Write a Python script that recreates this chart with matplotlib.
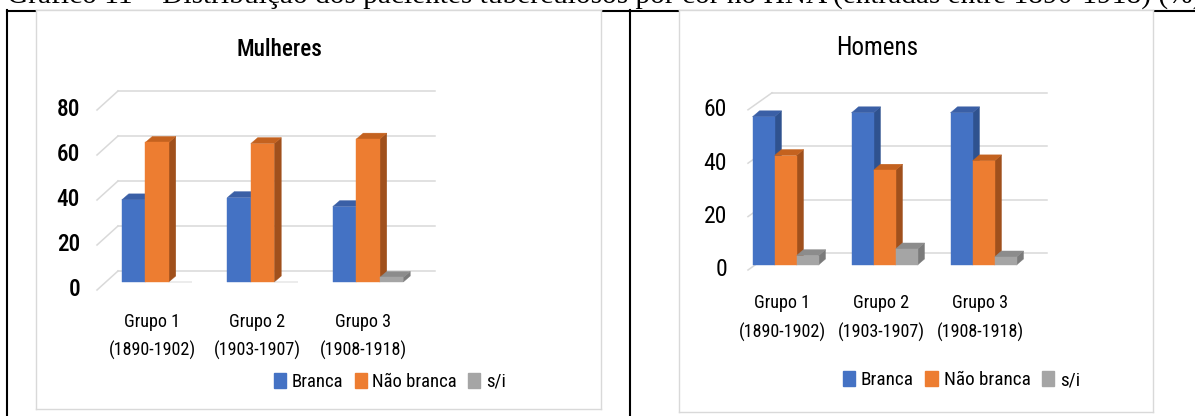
import numpy as np
import matplotlib
matplotlib.use('Agg')
import matplotlib.pyplot as plt
from matplotlib.patches import Polygon, Patch
from matplotlib import font_manager
from matplotlib.font_manager import FontProperties

# data (%)
grupos = ['Grupo 1', 'Grupo 2', 'Grupo 3']
periodos = ['(1890-1902)', '(1903-1907)', '(1908-1918)']
series = ['Branca', 'Não branca', 's/i']
mulheres_branca = [36.5, 37.5, 33.5]
mulheres_nao_branca = [62, 61.5, 63.5]
mulheres_si = [0, 0, 2]
homens_branca = [55.5, 57, 57]
homens_nao_branca = [41, 35.5, 39]
homens_si = [3.5, 6, 3]
mulheres_ticks = [0, 20, 40, 60, 80]
homens_ticks = [0, 20, 40, 60]

caption = 'Gráfico 11 – Distribuição dos pacientes tuberculosos por cor no HNA (entradas entre 1890-1918) (%)'

front_c = ['#4472C4', '#ED7D31', '#A5A5A5']
side_c = ['#2F528F', '#A0501C', '#7B7B7B']
top_c = ['#3A5FA6', '#C4621F', '#8C8C8C']
grid_c = '#D9D9D9'


def wnum(w):
    if isinstance(w, (int, float)):
        return w
    return {'normal': 400, 'regular': 400, 'book': 400, 'medium': 500, 'semibold': 600,
            'demibold': 600, 'bold': 700, 'light': 300}.get(str(w).lower(), 400)


def pick_narrow(weights):
    # a condensed / narrow sans face in the wanted weight, else plain Roboto
    fl = font_manager.fontManager.ttflist
    is_narrow = lambda f: (f.stretch in ('condensed', 'semi-condensed', 'extra-condensed')
                           or 'Narrow' in f.name or 'Condensed' in f.fname or 'Condensed' in f.name)
    for fam in ['Liberation Sans Narrow', 'Roboto Condensed', 'Open Sans Condensed',
                'Noto Sans', 'DejaVu Sans', 'Open Sans', 'Roboto']:
        for wt in weights:
            for f in fl:
                if f.name == fam and f.style == 'normal' and wnum(f.weight) == wt and is_narrow(f):
                    return f.fname
    for wt in weights:
        for f in fl:
            if f.name == 'Roboto' and f.style == 'normal' and wnum(f.weight) == wt:
                return f.fname
    return font_manager.findfont(FontProperties(family='DejaVu Sans'))


narrow_reg = pick_narrow([400])
narrow_bold = pick_narrow([500, 600, 700, 400])
names = {f.name for f in font_manager.fontManager.ttflist}
serif = 'Liberation Serif' if 'Liberation Serif' in names else 'DejaVu Serif'

W, H = 1195, 416
fig = plt.figure(figsize=(W / 100, H / 100), dpi=100)
rend = fig.canvas.get_renderer()


def fp(text, target_w, cap_px, fname, stretch=1.1):
    # size so that the text is about as wide as in the picture, but no taller
    p = FontProperties(fname=fname, size=10)
    w = rend.get_text_width_height_descent(text, p, ismath=False)[0]
    s_w = 10 * target_w / w * stretch
    s_h = cap_px
    return FontProperties(fname=fname, size=min(s_w, s_h))


# table borders of the page behind the two chart images
bg = fig.add_axes([0, 0, 1, 1])
bg.set_xlim(0, W)
bg.set_ylim(H, 0)
bg.axis('off')
bg.plot([7, W], [10.5, 10.5], color='black', lw=1.5)
bg.plot([7, 7], [10, H], color='black', lw=1.5)
bg.plot([630, 630], [10, H], color='black', lw=1.5)

# caption, cut at the top of the picture
cp = FontProperties(family=serif, size=10)
wcap = rend.get_text_width_height_descent(caption[:-1], cp, ismath=False)[0]
fig.text(7 / W, 1 - 3 / H, caption, ha='left', va='baseline', family=serif,
         fontsize=10 * (W - 7) / wcap)


def chart(p, title, vals, ticks):
    x0, y0, x1, y1 = p['box']
    sp, c0, base, sc = p['sp'], p['c0'], p['base'], p['scale']
    X = lambda px: (px - c0) / sp
    Y = lambda py: (base - py) / sc
    ax = fig.add_axes([x0 / W, 1 - y1 / H, (x1 - x0) / W, (y1 - y0) / H])
    ax.set_xlim(X(x0), X(x1))
    ax.set_ylim(Y(y1), Y(y0))
    ax.set_facecolor('white')
    ax.set_xticks([])
    ax.set_yticks([])
    for s in ax.spines.values():
        s.set_color(grid_c)
        s.set_linewidth(1.0)

    # back wall gridlines + side wall diagonals
    tick_fp = fp('80', *p['tick_fit'], stretch=1.3)
    bx0, bx1 = p['back_x']
    for v in ticks:
        yb = v + p['back_dy'] / sc
        yf = v - p['front_dy'] / sc
        ax.plot([X(bx0), X(bx1)], [yb, yb], color=grid_c, lw=1.1, zorder=1)
        ax.plot([X(p['front_x']), X(bx0)], [yf, yb], color=grid_c, lw=1.1, zorder=1)
        ax.text(X(p['tick_right']), yf, str(v), ha='right', va='center', fontproperties=tick_fp)

    idx = np.arange(len(grupos))
    bw = p['bar_w'] / sp
    ddx = 7 / sp
    ddy = 6 / sc
    for k, v in enumerate(vals):
        xs = idx + (k - 1) * bw
        for x, h in zip(xs, v):
            if h <= 0:
                continue
            l, rr = x - bw / 2, x + bw / 2
            ax.add_patch(Polygon([(rr, 0), (rr + ddx, ddy), (rr + ddx, h + ddy), (rr, h)],
                                 closed=True, fc=side_c[k], ec=side_c[k], lw=0.3, zorder=3 + k))
            ax.add_patch(Polygon([(l, h), (rr, h), (rr + ddx, h + ddy), (l + ddx, h + ddy)],
                                 closed=True, fc=top_c[k], ec=top_c[k], lw=0.3, zorder=3 + k))
        ax.bar(xs, v, width=bw, color=front_c[k], ec=front_c[k], lw=0.3, zorder=3 + k)

    cat_fp = fp('(1890-1902)', 79, 15.5, narrow_reg)
    for i in idx:
        ax.text(i - p['lab_dx'] / sp, Y(p['cat_y'][0]), grupos[i], ha='center', va='center',
                fontproperties=cat_fp)
        ax.text(i - p['lab_dx'] / sp, Y(p['cat_y'][1]), periodos[i], ha='center', va='center',
                fontproperties=cat_fp)

    ax.text(X(p['title_xy'][0]), Y(p['title_xy'][1]), title, ha='center', va='center',
            fontproperties=fp(title, *p['title_fit']))

    handles = [Patch(color=c) for c in front_c]
    lx, ly = p['legend']
    ax.legend(handles, series, loc='center', bbox_to_anchor=(lx / W, 1 - ly / H),
              bbox_transform=fig.transFigure, ncol=3, frameon=False,
              handlelength=0.65, handleheight=0.8, handletextpad=0.3, columnspacing=0.6,
              prop=fp('Não branca', p['leg_w'], 15.5, narrow_reg))
    return ax


left = dict(box=(36, 10, 601, 409), c0=157, sp=105.5, base=282, scale=2.25, bar_w=23.5,
            back_dy=11, front_dy=8, back_x=(118, 435), front_x=97, tick_right=80,
            cat_y=(322, 350), lab_dx=5, legend=(390, 382), title_xy=(279, 50),
            tick_fit=(18, 18, narrow_bold), title_fit=(78, 20, narrow_bold), leg_w=77)
right = dict(box=(679, 10, 1153, 412), c0=785.5, sp=99, base=265, scale=2.67, bar_w=22,
             back_dy=12, front_dy=5, back_x=(772, 1047), front_x=748, tick_right=727,
             cat_y=(303, 332), lab_dx=3.5, legend=(961.5, 380), title_xy=(877, 48),
             tick_fit=(20, 17, narrow_reg), title_fit=(75, 18, narrow_reg), leg_w=79)

chart(left, 'Mulheres', [mulheres_branca, mulheres_nao_branca, mulheres_si], mulheres_ticks)
chart(right, 'Homens', [homens_branca, homens_nao_branca, homens_si], homens_ticks)

fig.savefig('out.png', dpi=100)
